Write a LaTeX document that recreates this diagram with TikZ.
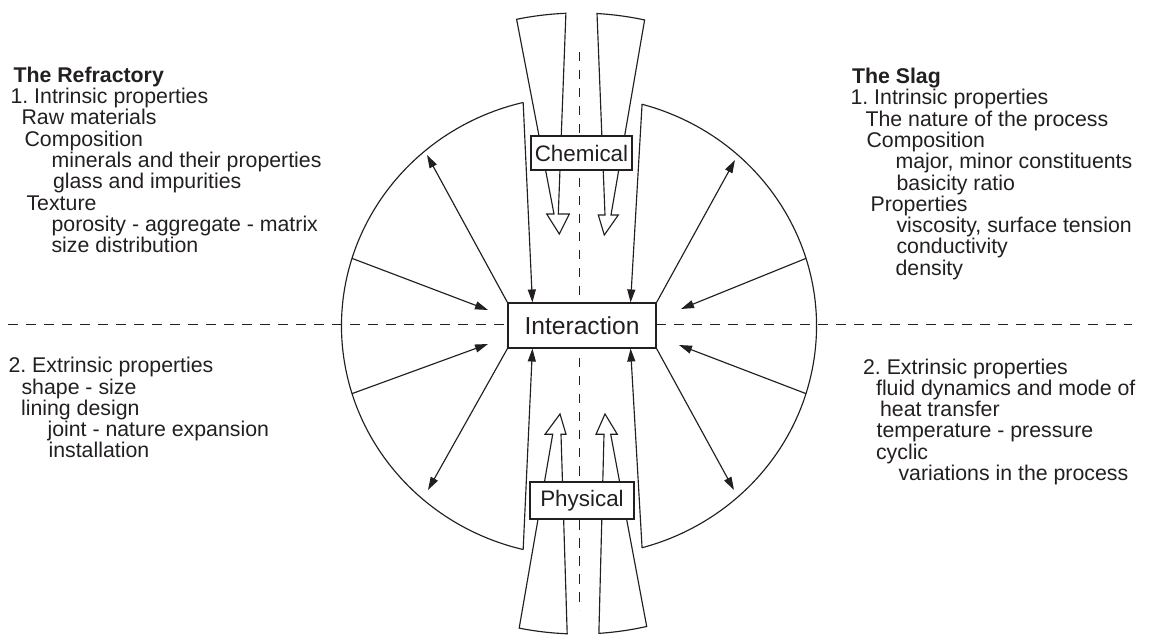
\documentclass[tikz,border=0pt]{standalone}
\usepackage{fontspec}
\setmainfont{Liberation Sans}
\usetikzlibrary{arrows.meta,calc}
\definecolor{ink}{RGB}{35,31,32}
\frenchspacing

\begin{document}
\begin{tikzpicture}
		[
			x=1pt, y=1pt,
			color=ink, line width=1.15pt,
			box/.style={draw, fill=white, inner sep=0pt, font=\fontsize{22.4}{24}\selectfont},
			info/.style={anchor=north west, align=left, inner sep=0pt, font=\fontsize{21.3}{21.3}\selectfont},
			arr/.style={-{Triangle[length=13pt,width=8pt]}},
			axis/.style={dash pattern=on 9.5pt off 8.5pt, line width=1pt}
		]

		\useasboundingbox (0,0) rectangle (1151,635);
		\coordinate (C) at (579,309);

		\coordinate (axl) at (8,310);
		\coordinate (axr) at (1132,310);
		\coordinate (axt) at (579,583);
		\coordinate (axb) at (579,25);
		\draw[axis] (axl) -- (axr);
		\draw[axis] (axt) -- (axb);

		\draw ($(C)+(101.5:313)$) -- (554,421) -- (546.7,421) -- (559.3,401) -- (569.3,421) -- (558.3,421)
			-- ($(C)+(92.4:313)$) arc[start angle=92.4, end angle=101.5, radius=313] -- cycle;
		\draw ($(C)+(86.7:313)$) -- (605,420) -- (598.3,420) -- (604.3,400) -- (618.3,420) -- (611,420)
			-- ($(C)+(77.9:313)$) arc[start angle=77.9, end angle=86.7, radius=313] -- cycle;
		\draw ($(C)+(258.8:308)$) -- (552.7,200.7) -- (545,200.7) -- (560,221) -- (566,200.7) -- (561,200.7)
			-- ($(C)+(267.8:308)$) arc[start angle=267.8, end angle=258.8, radius=308] -- cycle;
		\draw ($(C)+(273.7:308)$) -- (604,200.7) -- (596,200.7) -- (605,221) -- (617.3,200.7) -- (610.7,200.7)
			-- ($(C)+(282.7:308)$) arc[start angle=282.7, end angle=273.7, radius=308] -- cycle;

		\path (C) ++(103.6:237.5 and 230) coordinate (lt);
		\path (C) ++(74.6:237.5 and 230) coordinate (rt);
		\draw (lt) arc[start angle=103.6, end angle=256.4, x radius=237.5, y radius=230] coordinate (lb);
		\draw (rt) arc[start angle=74.6, end angle=-74.6, x radius=237.5, y radius=230] coordinate (rb);

		\node[box, minimum width=148pt, minimum height=45pt, font=\fontsize{24.6}{26}\selectfont] (inter) at (582,309.5) {Interaction};
		\node[box, minimum width=101pt, minimum height=34pt] (chem) at (581.5,482) {Chemical};
		\node[box, minimum width=104pt, minimum height=37pt] (phys) at (582,134.5) {Physical};

		\coordinate (intl) at ($(inter.north west)+(25,0)$);
		\coordinate (intr) at ($(inter.north east)+(-26,0)$);
		\coordinate (inbl) at ($(inter.south west)+(25,0)$);
		\coordinate (inbr) at ($(inter.south east)+(-26,0)$);
		\draw[arr] (lt) -- (intl);
		\draw[arr] (rt) -- (intr);
		\draw[arr] (lb) -- (inbl);
		\draw[arr] (rb) -- (inbr);

		\coordinate (nw) at (427,480);
		\coordinate (sw) at (428,145);
		\coordinate (ne) at (735,475);
		\coordinate (se) at (734,145);
		\draw[arr] (inter.north west) -- (nw);
		\draw[arr] (inter.south west) -- (sw);
		\draw[arr] (inter.north east) -- (ne);
		\draw[arr] (inter.south east) -- (se);

		\path (C) ++(162.9:237.5 and 230) coordinate (wu);
		\path (C) ++(197.1:237.5 and 230) coordinate (wl);
		\path (C) ++(17.1:237.5 and 230) coordinate (eu);
		\path (C) ++(-17.1:237.5 and 230) coordinate (el);
		\coordinate (wui) at (488,325);
		\coordinate (wli) at (488,291);
		\coordinate (eui) at (681,326);
		\coordinate (eli) at (679,290);
		\draw[arr] (wu) -- (wui);
		\draw[arr] (wl) -- (wli);
		\draw[arr] (eu) -- (eui);
		\draw[arr] (el) -- (eli);

		\node[info] (refr) at (10,568.8) {\hspace*{3pt}\textbf{The Refractory}\\
			1. Intrinsic properties\\
			\hspace*{11pt}Raw materials\\
			\hspace*{14pt}Composition\\
			\hspace*{41pt}minerals and their properties\\
			\hspace*{42.5pt}glass and impurities\\
			\hspace*{16pt}Texture\\
			\hspace*{41pt}porosity - aggregate - matrix\\
			\hspace*{41pt}size distribution};
		\node[info] (extr) at (8,278.3) {2. Extrinsic properties\\
			\hspace*{13pt}shape - size\\
			\hspace*{12.5pt}lining design\\
			\hspace*{39pt}joint - nature expansion\\
			\hspace*{40pt}installation};
		\node[info] (slag) at (850,567.5) {\hspace*{1.5pt}\textbf{The Slag}\\
			1. Intrinsic properties\\
			\hspace*{15pt}The nature of the process\\
			\hspace*{16pt}Composition\\
			\hspace*{45pt}major, minor constituents\\
			\hspace*{46pt}basicity ratio\\
			\hspace*{20pt}Properties\\
			\hspace*{46pt}viscosity, surface tension\\
			\hspace*{46pt}conductivity\\
			\hspace*{45pt}density};
		\node[info] (proc) at (862.5,277) {2. Extrinsic properties\\
			\hspace*{13pt}fluid dynamics and mode of\\
			\hspace*{17pt}heat transfer\\
			\hspace*{13.5pt}temperature - pressure\\
			\hspace*{13pt}cyclic\\
			\hspace*{35.5pt}variations in the process};
	\end{tikzpicture}
\end{document}
